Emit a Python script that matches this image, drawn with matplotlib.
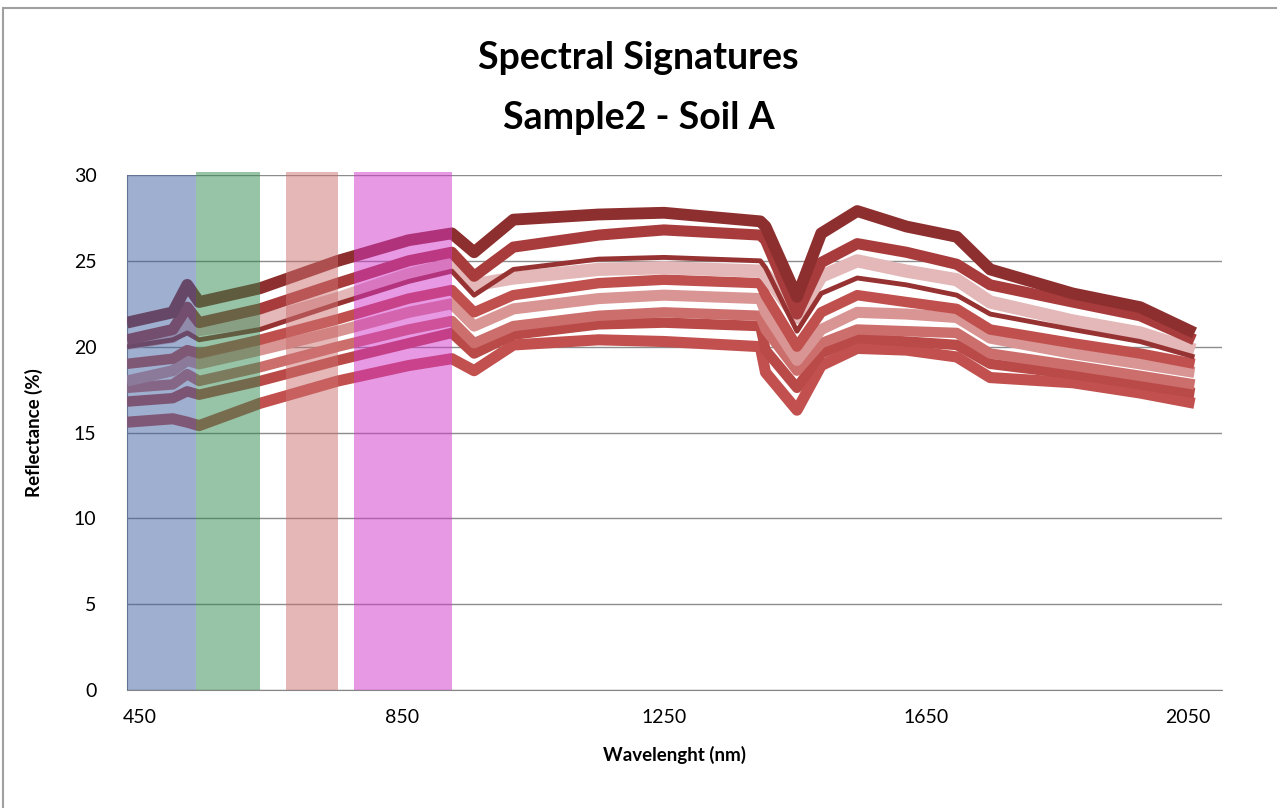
import matplotlib
matplotlib.use("Agg")
import matplotlib.pyplot as plt
from matplotlib.patches import Rectangle

plt.rcParams['font.family'] = ['Lato', 'DejaVu Sans']

wl = [430, 500, 522, 540, 633, 752, 860, 926, 960, 1020, 1150, 1250, 1397, 1405,
      1453, 1490, 1545, 1620, 1697, 1748, 1874, 1977, 2060]

# reflectance (%) per spectrum, top to bottom
spec_a = [21.4, 22.0, 23.6, 22.6, 23.4, 25.0, 26.2, 26.6, 25.5, 27.4, 27.7, 27.8, 27.3, 27.0,
          22.9, 26.6, 27.9, 27.0, 26.4, 24.5, 23.1, 22.3, 20.8]
spec_b = [20.4, 21.0, 22.3, 21.4, 22.2, 23.7, 25.0, 25.5, 24.1, 25.8, 26.5, 26.8, 26.5, 26.2,
          21.9, 24.9, 26.0, 25.5, 24.8, 23.6, 22.6, 21.8, 20.4]
spec_c = [20.0, 20.4, 20.8, 20.4, 21.0, 22.5, 23.8, 24.4, 23.0, 24.5, 25.1, 25.2, 25.0, 24.6,
          20.9, 23.1, 24.0, 23.6, 23.0, 21.9, 21.0, 20.3, 19.4]
spec_d = [20.2, 20.6, 21.3, 21.0, 21.5, 22.8, 24.2, 24.8, 23.6, 24.0, 24.5, 24.6, 24.4, 24.2,
          21.7, 24.1, 25.0, 24.4, 23.9, 22.6, 21.5, 20.8, 19.8]
spec_e = [19.0, 19.3, 19.8, 19.6, 20.4, 21.6, 22.8, 23.3, 22.0, 23.0, 23.7, 23.9, 23.7, 23.0,
          20.0, 22.0, 23.0, 22.6, 22.2, 21.0, 20.2, 19.6, 19.0]
spec_f = [18.0, 18.6, 19.2, 19.0, 19.8, 20.9, 22.0, 22.5, 21.2, 22.2, 22.8, 23.0, 22.8, 22.0,
          19.2, 21.0, 22.0, 21.9, 21.7, 20.5, 19.6, 19.0, 18.5]
spec_g = [17.6, 17.8, 18.4, 18.0, 18.8, 20.0, 21.0, 21.5, 20.2, 21.2, 21.8, 22.0, 21.8, 21.0,
          18.6, 20.2, 21.0, 20.9, 20.8, 19.6, 18.9, 18.3, 17.8]
spec_h = [16.8, 17.0, 17.4, 17.2, 18.0, 19.2, 20.2, 20.8, 19.6, 20.7, 21.3, 21.4, 21.2, 19.8,
          17.6, 19.6, 20.5, 20.3, 20.1, 19.0, 18.4, 17.8, 17.3]
spec_i = [15.6, 15.8, 15.6, 15.4, 16.7, 18.0, 18.9, 19.3, 18.6, 20.1, 20.4, 20.3, 20.0, 18.5,
          16.3, 18.9, 19.9, 19.8, 19.4, 18.2, 17.9, 17.3, 16.7]

spectra = [spec_i, spec_h, spec_g, spec_f, spec_e, spec_d, spec_c, spec_b, spec_a]
colors = ["#C2504E", "#B94A48", "#CC6E6C", "#D99594", "#C0504D", "#E4B8B8", "#963232",
          "#A83C3C", "#8E2F2F"]
widths = [8, 7.5, 7.5, 8, 7.5, 9.5, 3.5, 8, 8.5]

# colour bands (start nm, end nm)
bands = [(430, 536, "#4060A0"), (536, 633, "#308850"), (673, 752, "#CC7070"),
         (777, 926, "#D035C8")]

fig = plt.figure(figsize=(12.77, 8.08), dpi=100)
ax = fig.add_axes([127 / 1277, 118 / 808, 1095 / 1277, 515 / 808])

for s, c, w in zip(spectra, colors, widths):
    ax.plot(wl, s, color=c, lw=w, solid_joinstyle="round", solid_capstyle="butt", zorder=3)

for i, (x0, x1, c) in enumerate(bands):
    top = 1.0 if i == 0 else 1.006
    ax.axvspan(x0, x1, ymin=0, ymax=top, color=c, alpha=0.5, lw=0, zorder=4, clip_on=False)

ax.set_xlim(430, 2102)
ax.set_ylim(0, 30)
ax.set_xticks([450, 850, 1250, 1650, 2050])
ax.set_yticks(range(0, 31, 5))
ax.tick_params(length=0, labelsize=14, pad=14)
ax.tick_params(axis="y", pad=22)
ax.grid(axis="y", color="#8C8C8C", lw=1)
ax.set_axisbelow(True)
for side in ["top", "right"]:
    ax.spines[side].set_visible(False)
for side in ["left", "bottom"]:
    ax.spines[side].set_color("#868686")

ax.set_xlabel("Wavelenght (nm)", fontsize=13.5, fontweight="bold", labelpad=14)
ax.set_ylabel("Reflectance (%)", fontsize=13.5, fontweight="bold", labelpad=22)

fig.text(0.5, 1 - 58 / 808, "Spectral Signatures", ha="center", va="center",
         fontsize=27, fontweight="bold")
fig.text(0.5, 1 - 118 / 808, "Sample2 - Soil A", ha="center", va="center",
         fontsize=27, fontweight="bold")

fig.patches.append(Rectangle((3 / 1277, -0.02), 1.1, 1 - 8 / 808 + 0.02,
                             transform=fig.transFigure, fill=False,
                             edgecolor="#A0A0A0", lw=1.5))

fig.savefig("out.png", dpi=100)
